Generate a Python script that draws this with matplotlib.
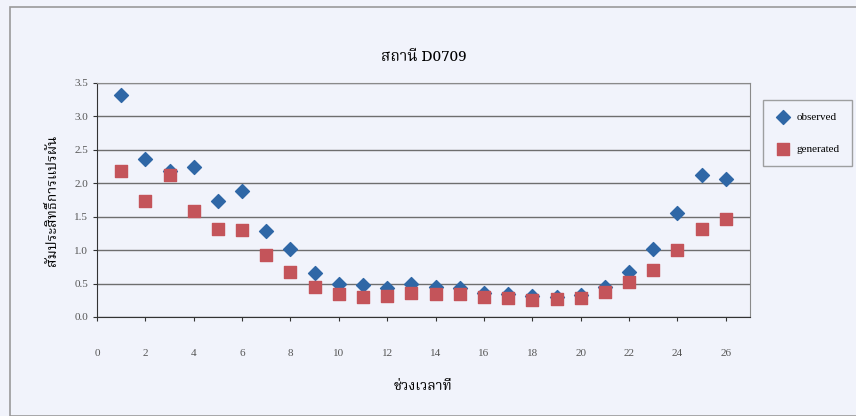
import matplotlib
matplotlib.use("Agg")
import matplotlib.pyplot as plt
from matplotlib import font_manager
from matplotlib.patches import Rectangle
from fontTools.ttLib import TTFont

# data
period = list(range(1, 27))
observed = [3.32, 2.37, 2.19, 2.25, 1.74, 1.89, 1.28, 1.01, 0.66, 0.49,
            0.48, 0.44, 0.49, 0.45, 0.43, 0.36, 0.34, 0.31, 0.30, 0.33,
            0.45, 0.67, 1.01, 1.55, 2.13, 2.06]
generated = [2.18, 1.74, 2.13, 1.58, 1.31, 1.30, 0.92, 0.67, 0.45, 0.35,
             0.30, 0.31, 0.36, 0.35, 0.35, 0.30, 0.28, 0.26, 0.27, 0.29,
             0.38, 0.52, 0.70, 1.00, 1.31, 1.46]
title = "สถานี D0709"
xlabel = "ช่วงเวลาที่"
ylabel = "สัมประสิทธิ์การแปรผัน"
xticks = list(range(0, 27, 2))
yticks = [0.0, 0.5, 1.0, 1.5, 2.0, 2.5, 3.0, 3.5]


def thai_font():
    # look for an installed font that has Thai glyphs
    found = []
    for path in font_manager.findSystemFonts():
        try:
            f = TTFont(path, fontNumber=0, lazy=True)
            cmap = f.getBestCmap() or {}
            if 0x0E2A in cmap and 0x0E35 in cmap:
                name = font_manager.FontProperties(fname=path).get_name()
                found.append(name)
        except Exception:
            pass
    for pref in ["Tahoma", "Noto Serif Thai", "Noto Sans Thai", "Loma", "Garuda"]:
        if pref in found:
            return pref
    return found[0] if found else "DejaVu Sans"


thai = thai_font()
serif = "Liberation Serif"

bg = "#f1f3fb"
fig = plt.figure(figsize=(8.56, 4.16), dpi=100, facecolor=bg)
fig.patches.append(Rectangle((10 / 856, 0.0), 1, 1 - 7 / 416, transform=fig.transFigure,
                             fill=False, edgecolor="#9a9a9a", linewidth=1.2))

ax = fig.add_axes([97 / 856, 1 - 317 / 416, (750 - 97) / 856, (317 - 83) / 416])
ax.set_facecolor(bg)

ax.scatter(period, observed, marker="D", s=50, color="#2f67a6", label="observed", zorder=3)
ax.scatter(period, generated, marker="s", s=65, color="#c4545a", label="generated", zorder=4)

ax.set_xlim(0, 27)
ax.set_ylim(0, 3.5)
ax.set_xticks(xticks)
ax.set_yticks(yticks)
ax.set_yticklabels(["%.1f" % v for v in yticks])
ax.yaxis.grid(True, color="#6e6e6e", linewidth=1.0)
ax.set_axisbelow(True)
for side in ["top", "right"]:
    ax.spines[side].set_color("#8a8a8a")
ax.spines["left"].set_color("#333333")
ax.spines["bottom"].set_color("#333333")
ax.tick_params(axis="both", labelsize=8, colors="#333333", labelcolor="#555555",
               length=3, direction="out")
ax.tick_params(axis="x", pad=20)
for lab in ax.get_xticklabels() + ax.get_yticklabels():
    lab.set_fontfamily(serif)

ax.set_title(title, fontsize=11, fontweight="bold", family=[thai, serif], pad=16)
ax.set_xlabel(xlabel, fontsize=10, fontweight="bold", family=[thai, serif], labelpad=15)
ax.set_ylabel(ylabel, fontsize=10, fontweight="bold", family=[thai, serif], labelpad=10)

leg = ax.legend(loc="upper left", bbox_to_anchor=(1.012, 0.95), frameon=True,
                fancybox=False, edgecolor="#8a8a8a", facecolor=bg,
                prop={"family": serif, "size": 8}, labelspacing=2.0,
                handletextpad=0.6, borderpad=1.1, handlelength=1.3)
leg.get_frame().set_linewidth(1.0)

fig.savefig("out.png", dpi=100, facecolor=bg)
